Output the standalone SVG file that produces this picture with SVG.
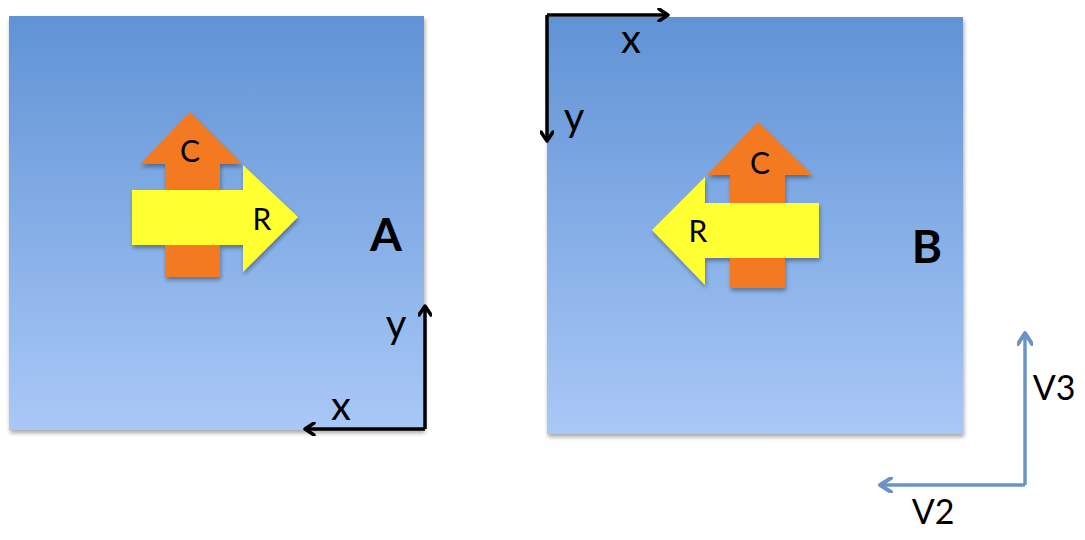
<svg xmlns="http://www.w3.org/2000/svg" width="1085" height="540" viewBox="0 0 1085 540">
<defs>
<linearGradient id="sq" x1="0" y1="0" x2="0" y2="1">
<stop offset="0" stop-color="#6093d5"/>
<stop offset="1" stop-color="#a9c8f7"/>
</linearGradient>
<filter id="sh" x="-10%" y="-10%" width="130%" height="130%">
<feGaussianBlur in="SourceAlpha" stdDeviation="2"/>
<feOffset dx="1" dy="3"/>
<feComponentTransfer><feFuncA type="linear" slope="0.35"/></feComponentTransfer>
<feMerge><feMergeNode/><feMergeNode in="SourceGraphic"/></feMerge>
</filter>
<marker id="hk" viewBox="0 0 14 14" refX="11" refY="7" markerWidth="14" markerHeight="14" markerUnits="userSpaceOnUse" orient="auto">
<path d="M2,1 L11,7 L2,13" fill="none" stroke="#000" stroke-width="3.5" stroke-linecap="round" stroke-linejoin="round"/>
</marker>
<marker id="hb" viewBox="0 0 16 16" refX="13" refY="8" markerWidth="16" markerHeight="16" markerUnits="userSpaceOnUse" orient="auto">
<path d="M2,1 L13,8 L2,15" fill="none" stroke="#6c93c7" stroke-width="4" stroke-linecap="round" stroke-linejoin="round"/>
</marker>
</defs>
<style>
.t{font-family:Lato,"Open Sans","Liberation Sans",sans-serif;fill:#000}
.ax{fill:none;stroke:#000;stroke-width:3.5}
.vax{fill:none;stroke:#6c93c7;stroke-width:3.5}
.or{fill:#f47a20}
.ye{fill:#ffff33}
</style>
<g id="squareA">
<rect x="9" y="16" width="415" height="414" fill="url(#sq)" filter="url(#sh)"/>
<text class="t" x="386" y="251" font-size="46" font-weight="bold" text-anchor="middle">A</text>
</g>
<g id="squareB">
<rect x="547" y="17" width="416" height="417" fill="url(#sq)" filter="url(#sh)"/>
<text class="t" x="927" y="263" font-size="46" font-weight="bold" text-anchor="middle">B</text>
</g>
<g id="arrowsA" filter="url(#sh)">
<path class="or" d="M190,112 L242,164 L220,164 L220,277 L165,277 L165,164 L140,164 Z"/>
<path class="ye" d="M132,190 L243,190 L243,165 L298,217 L243,272 L243,245 L132,245 Z"/>
</g>
<g id="labelsA">
<text class="t" x="190" y="162" font-size="30" text-anchor="middle">C</text>
<text class="t" x="262" y="230" font-size="30" text-anchor="middle">R</text>
</g>
<g id="arrowsB" filter="url(#sh)">
<path class="or" d="M758,122 L812,175 L785,175 L785,288 L730,288 L730,175 L707,175 Z"/>
<path class="ye" d="M819,203 L705,203 L705,177 L652,230 L705,285 L705,258 L819,258 Z"/>
</g>
<g id="labelsB">
<text class="t" x="760" y="174" font-size="30" text-anchor="middle">C</text>
<text class="t" x="698" y="242" font-size="30" text-anchor="middle">R</text>
</g>
<g id="connectors">
<path class="ax" d="M425,429 L425,306" marker-end="url(#hk)"/>
<path class="ax" d="M425,429 L305,429" marker-end="url(#hk)"/>
<path class="ax" d="M547,15 L668,15" marker-end="url(#hk)"/>
<path class="ax" d="M547,15 L547,141" marker-end="url(#hk)"/>
<path class="vax" d="M1025,485 L1025,333" marker-end="url(#hb)"/>
<path class="vax" d="M1025,485 L880,485" marker-end="url(#hb)"/>
</g>
<g id="axisLabels">
<text class="t" x="396" y="338" font-size="40" text-anchor="middle">y</text>
<text class="t" x="341" y="420" font-size="40" text-anchor="middle">x</text>
<text class="t" x="631" y="53" font-size="40" text-anchor="middle">x</text>
<text class="t" x="574" y="131" font-size="40" text-anchor="middle">y</text>
<text class="t" x="1054" y="400" font-size="34" text-anchor="middle">V3</text>
<text class="t" x="933" y="524" font-size="34" text-anchor="middle">V2</text>
</g>
</svg>
